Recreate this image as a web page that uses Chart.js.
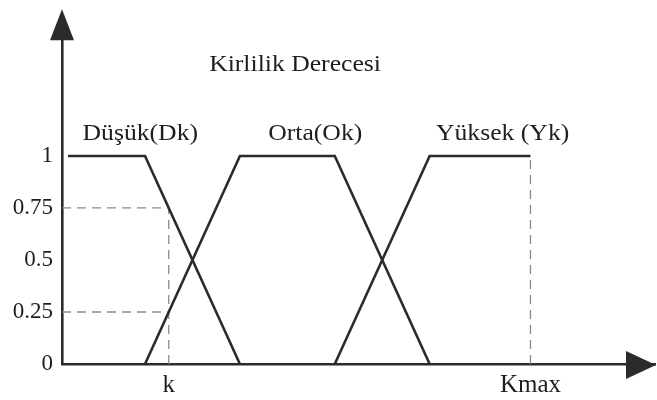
<!DOCTYPE html>
<html>
<head>
<meta charset="utf-8">
<script src="https://cdn.jsdelivr.net/npm/chart.js@4/dist/chart.umd.min.js"></script>
<style>
  html, body { margin: 0; padding: 0; background: #ffffff; }
  #wrap { width: 657px; height: 400px; position: relative; }
</style>
</head>
<body>
<div id="wrap"><canvas id="c"></canvas></div>
<script>
// Membership functions for pollution degree (trapezoids)
const chartTitle = 'Kirlilik Derecesi';
const seriesNames = ['Düşük(Dk)', 'Orta(Ok)', 'Yüksek (Yk)'];

const dusukX = [1, 14, 30];
const dusukY = [1, 1, 0];
const ortaX = [14, 30, 46, 62];
const ortaY = [0, 1, 1, 0];
const yuksekX = [46, 62, 79];
const yuksekY = [0, 1, 1];

// Reference point k and the upper limit Kmax
const kValue = 18;
const kMax = 79;
const muDusukAtK = 0.75;
const muOrtaAtK = 0.25;

const yTickValues = [0, 0.25, 0.5, 0.75, 1];
const xTickValues = [kValue, kMax];
const xTickLabels = ['k', 'Kmax'];

const pts = (xs, ys) => xs.map((x, i) => ({ x: x, y: ys[i] }));

const ink = '#2b2b2b';
const guide = '#8a8a8a';

const solid = (data) => ({
  data: data,
  borderColor: ink,
  borderWidth: 2.6,
  pointRadius: 0,
  fill: false,
  tension: 0
});
const dashed = (data) => ({
  data: data,
  borderColor: guide,
  borderWidth: 1.3,
  borderDash: [9, 6],
  pointRadius: 0,
  fill: false,
  tension: 0
});

// Arrow heads on both axes plus the in-plot text labels
const decorations = {
  id: 'decorations',
  afterDatasetsDraw(chart) {
    const { ctx, chartArea, scales } = chart;
    const xs = scales.x, ys = scales.y;
    const x0 = xs.getPixelForValue(0);
    const y0 = ys.getPixelForValue(0);
    ctx.save();
    ctx.fillStyle = ink;
    ctx.strokeStyle = ink;
    // y axis arrow, its tip reaching a little above the plot area
    const tip = ys.getPixelForValue(1.705);
    ctx.lineWidth = 2.6;
    ctx.beginPath();
    ctx.moveTo(x0, chartArea.top);
    ctx.lineTo(x0, tip + 20);
    ctx.stroke();
    ctx.beginPath();
    ctx.moveTo(x0, tip);
    ctx.lineTo(x0 - 12, tip + 31);
    ctx.lineTo(x0 + 12, tip + 31);
    ctx.closePath();
    ctx.fill();
    // x axis arrow
    const xr = chartArea.right + 1;
    ctx.beginPath();
    ctx.moveTo(xr, y0 + 1);
    ctx.lineTo(xr - 30, y0 - 13);
    ctx.lineTo(xr - 30, y0 + 15);
    ctx.closePath();
    ctx.fill();

    // text labels
    ctx.fillStyle = '#1e1e1e';
    ctx.textAlign = 'center';
    ctx.textBaseline = 'alphabetic';
    const put = (txt, xv, yv) => {
      const px = xs.getPixelForValue(xv);
      const py = ys.getPixelForValue(yv);
      ctx.save();
      ctx.translate(px, py);
      ctx.scale(1.07, 1);
      ctx.font = '24px "Liberation Serif", "Times New Roman", serif';
      ctx.fillText(txt, 0, 0);
      ctx.restore();
    };
    put(chartTitle, 39.3, 1.41);
    put(seriesNames[0], 13.2, 1.075);
    put(seriesNames[1], 42.7, 1.075);
    put(seriesNames[2], 74.3, 1.075);
    ctx.restore();
  }
};

new Chart(document.getElementById('c'), {
  type: 'line',
  data: {
    datasets: [
      solid(pts(dusukX, dusukY)),
      solid(pts(ortaX, ortaY)),
      solid(pts(yuksekX, yuksekY)),
      dashed([{ x: 0, y: muDusukAtK }, { x: kValue, y: muDusukAtK }]),
      dashed([{ x: 0, y: muOrtaAtK }, { x: kValue, y: muOrtaAtK }]),
      dashed([{ x: kValue, y: 0 }, { x: kValue, y: muDusukAtK }]),
      dashed([{ x: kMax, y: 0 }, { x: kMax, y: 1 }])
    ]
  },
  options: {
    responsive: true,
    maintainAspectRatio: false,
    animation: false,
    layout: { padding: { top: 8, right: 2, left: 0, bottom: 0 } },
    plugins: {
      legend: { display: false },
      tooltip: { enabled: false },
      title: { display: false }
    },
    scales: {
      x: {
        type: 'linear',
        min: 0,
        max: 100,
        grid: { display: false, drawTicks: false },
        border: { display: true, color: ink, width: 2.6 },
        afterBuildTicks: (s) => { s.ticks = xTickValues.map(v => ({ value: v })); },
        afterFit: (s) => { s.height = 36; },
        ticks: {
          autoSkip: false,
          maxRotation: 0,
          padding: 6,
          color: '#1e1e1e',
          font: { family: '"Liberation Serif", "Times New Roman", serif', size: 25 },
          callback: (v, i) => xTickLabels[i]
        }
      },
      y: {
        type: 'linear',
        min: 0,
        max: 1.64,
        grid: { display: false, drawTicks: false },
        border: { display: true, color: ink, width: 2.6 },
        afterBuildTicks: (s) => { s.ticks = yTickValues.map(v => ({ value: v })); },
        afterFit: (s) => { s.width = 62; },
        ticks: {
          padding: 9,
          color: '#1e1e1e',
          font: { family: '"Liberation Serif", "Times New Roman", serif', size: 23 },
          callback: (v) => String(v)
        }
      }
    }
  },
  plugins: [decorations]
});
</script>
</body>
</html>
